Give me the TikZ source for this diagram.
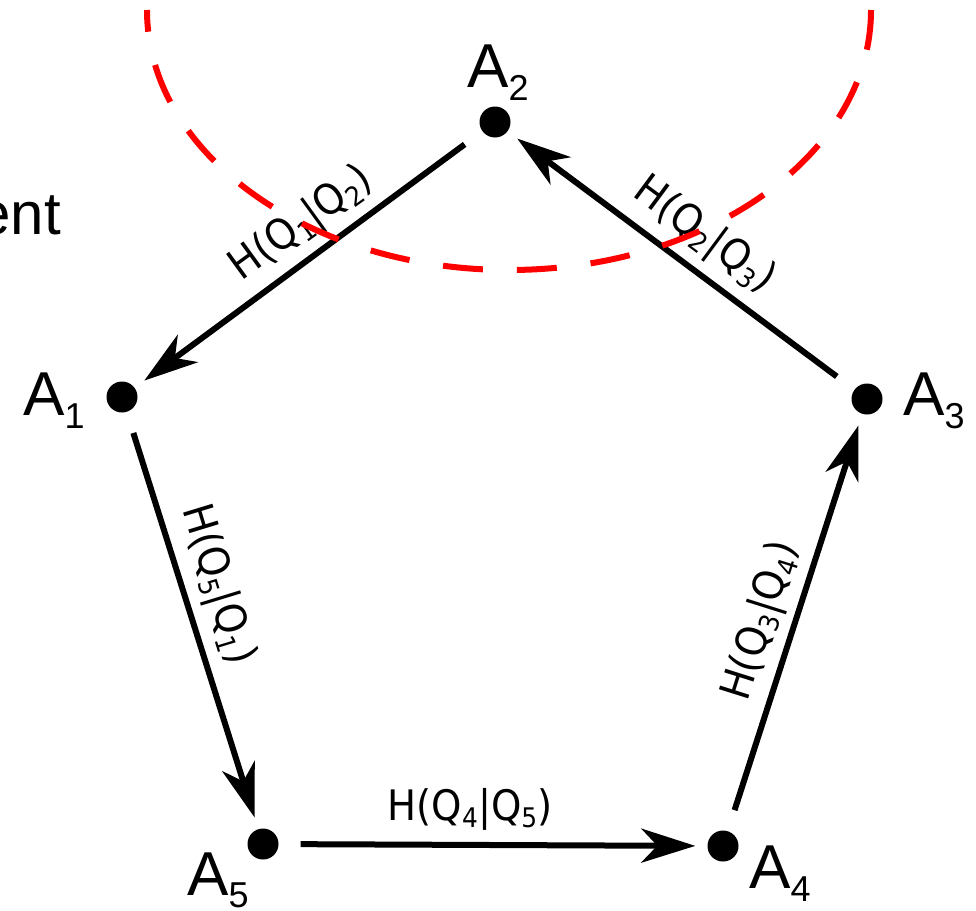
\documentclass[tikz,border=0pt]{standalone}
\usepackage{fontspec}
\setmainfont{Liberation Sans}
\newfontfamily\edgefont[FakeStretch=0.92]{DejaVu Sans}
\usetikzlibrary{arrows.meta}
\newcommand{\lowidx}[3]{\raisebox{-#2pt}{\fontsize{#1}{#1}\selectfont #3}}

\begin{document}
\begin{tikzpicture}[x=1pt, y=-1pt,
  dot/.style={circle, fill=black, inner sep=0pt, minimum size=31pt},
  vlabel/.style={anchor=base west, inner sep=0pt, font={\fontsize{62}{62}\selectfont}},
  elabel/.style={inner sep=0pt, font={\edgefont\fontsize{42}{42}\selectfont}},
  flow/.style={line width=6pt, -{Stealth[length=54pt, width=34pt, inset=16pt]}, shorten <=22pt, shorten >=12pt},
  cut/.style={red, line width=6pt, dash pattern=on 40pt off 34pt}]
\useasboundingbox (0,0) rectangle (976,910);
% agents
\node[dot] (a1) at (122,397) {};
\node[dot] (a2) at (495,122) {};
\node[dot] (a3) at (867,399) {};
\node[dot] (a4) at (723,846) {};
\node[dot] (a5) at (263,844) {};
\node[vlabel] (la1) at (23,415) {A\lowidx{36}{13}{1}};
\node[vlabel] (la2) at (467,87) {A\lowidx{36}{13}{2}};
\node[vlabel] (la3) at (903,415) {A\lowidx{36}{13}{3}};
\node[vlabel] (la4) at (749,888) {A\lowidx{36}{13}{4}};
\node[vlabel] (la5) at (187,895) {A\lowidx{36}{12}{5}};
\node[anchor=base east, inner sep=0pt, font={\fontsize{60}{60}\selectfont}] (word) at (61,234) {ent};
% cycle
\draw[flow] (a2) -- (a1);
\draw[flow] (a1) -- (a5);
\draw[flow] (a5) -- (a4);
\draw[flow] (a4) -- (a3);
\draw[flow] (a3) -- (a2);
\node[elabel, rotate=36] (h12) at (302,224) {H(Q\lowidx{27}{7}{1}|Q\lowidx{27}{7}{2})};
\node[elabel, rotate=-73] (h51) at (217,585) {H(Q\lowidx{27}{7}{5}|Q\lowidx{27}{7}{1})};
\node[elabel, anchor=base] (h45) at (470,820) {H(Q\lowidx{27}{7}{4}|Q\lowidx{27}{7}{5})};
\node[elabel, rotate=72.5] (h34) at (762,621) {H(Q\lowidx{27}{7}{3}|Q\lowidx{27}{7}{4})};
\node[elabel, rotate=-36.5] (h23) at (704,236) {H(Q\lowidx{27}{7}{2}|Q\lowidx{27}{7}{3})};
% red cut
\draw[cut] (871,10) arc[start angle=0, end angle=180, x radius=362, y radius=260];
\end{tikzpicture}
\end{document}
